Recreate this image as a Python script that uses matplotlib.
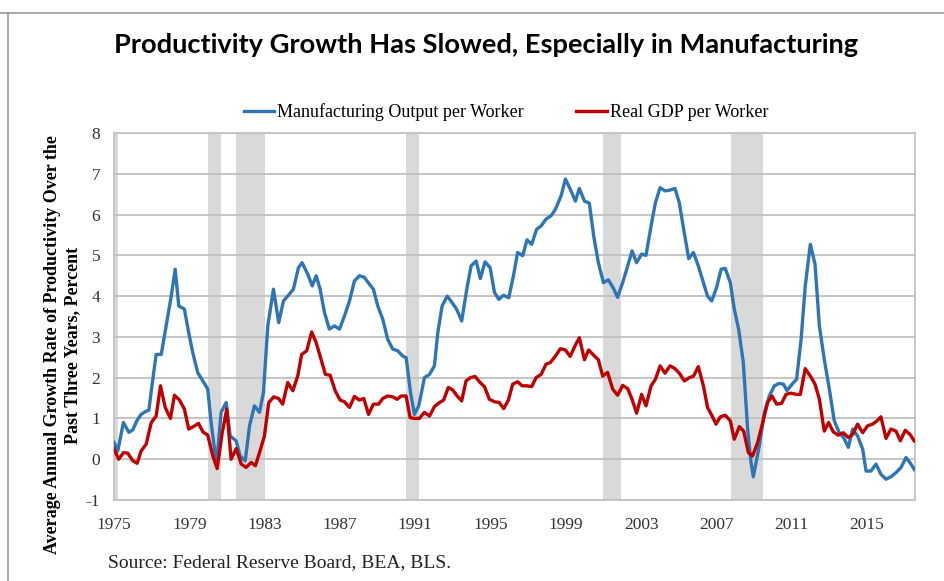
import matplotlib
matplotlib.use("Agg")
import matplotlib.pyplot as plt
from matplotlib.lines import Line2D

plt.rcParams["axes.unicode_minus"] = False

# Manufacturing output per worker, 3-yr avg growth (%)
mfg_year = [1975.00, 1975.20, 1975.50, 1975.79, 1976.00, 1976.21, 1976.44, 1976.71, 1976.85, 1977.06,
            1977.24, 1977.51, 1977.77, 1978.04, 1978.25, 1978.44, 1978.74, 1978.97, 1979.18, 1979.45,
            1979.72, 1979.98, 1980.16, 1980.34, 1980.46, 1980.69, 1980.96, 1981.17, 1981.49, 1981.70,
            1981.97, 1982.20, 1982.46, 1982.73, 1982.94, 1983.17, 1983.47, 1983.75, 1984.00, 1984.32,
            1984.53, 1984.80, 1984.99, 1985.29, 1985.53, 1985.74, 1985.95, 1986.18, 1986.44, 1986.71,
            1986.98, 1987.24, 1987.51, 1987.77, 1988.04, 1988.30, 1988.57, 1988.78, 1989.01, 1989.28,
            1989.54, 1989.81, 1990.07, 1990.34, 1990.52, 1990.75, 1990.96, 1991.19, 1991.49, 1991.76,
            1992.02, 1992.20, 1992.43, 1992.70, 1992.96, 1993.20, 1993.47, 1993.74, 1993.97, 1994.24,
            1994.46, 1994.71, 1994.98, 1995.21, 1995.44, 1995.69, 1995.97, 1996.22, 1996.44, 1996.71,
            1996.94, 1997.19, 1997.45, 1997.69, 1997.95, 1998.22, 1998.45, 1998.75, 1998.98, 1999.24,
            1999.51, 1999.72, 1999.99, 2000.25, 2000.48, 2000.73, 2001.00, 2001.26, 2001.53, 2001.75,
            2002.02, 2002.29, 2002.52, 2002.76, 2003.03, 2003.26, 2003.53, 2003.76, 2004.01, 2004.27,
            2004.54, 2004.80, 2005.03, 2005.26, 2005.53, 2005.78, 2006.04, 2006.31, 2006.53, 2006.75,
            2007.01, 2007.25, 2007.47, 2007.74, 2007.95, 2008.18, 2008.43, 2008.66, 2008.84, 2008.96,
            2009.28, 2009.55, 2009.81, 2010.08, 2010.34, 2010.56, 2010.75, 2011.02, 2011.26, 2011.50,
            2011.72, 2011.99, 2012.24, 2012.47, 2012.73, 2013.00, 2013.26, 2013.53, 2013.76, 2014.01,
            2014.24, 2014.50, 2014.77, 2014.95, 2015.21, 2015.48, 2015.74, 2016.01, 2016.27, 2016.54,
            2016.81, 2017.07, 2017.28, 2017.51]
mfg_val = [0.41, 0.20, 0.90, 0.66, 0.72, 0.94, 1.10, 1.18, 1.20, 1.96,
           2.57, 2.57, 3.27, 4.00, 4.66, 3.76, 3.68, 3.10, 2.62, 2.12,
           1.92, 1.72, 0.90, 0.25, -0.05, 1.15, 1.39, 0.57, 0.45, 0.08,
           -0.04, 0.82, 1.31, 1.15, 1.64, 3.27, 4.17, 3.35, 3.88, 4.05,
           4.17, 4.70, 4.82, 4.54, 4.25, 4.50, 4.17, 3.60, 3.19, 3.27,
           3.19, 3.51, 3.88, 4.37, 4.50, 4.46, 4.29, 4.17, 3.76, 3.43,
           2.94, 2.70, 2.66, 2.53, 2.49, 1.64, 1.10, 1.31, 2.00, 2.08,
           2.29, 3.10, 3.76, 4.00, 3.84, 3.68, 3.39, 4.17, 4.74, 4.86,
           4.43, 4.84, 4.70, 4.09, 3.92, 4.02, 3.96, 4.50, 5.07, 4.99,
           5.38, 5.27, 5.64, 5.72, 5.89, 5.97, 6.13, 6.46, 6.87, 6.62,
           6.33, 6.64, 6.33, 6.28, 5.48, 4.82, 4.33, 4.40, 4.19, 3.97,
           4.33, 4.74, 5.11, 4.82, 5.03, 5.00, 5.72, 6.29, 6.66, 6.58,
           6.60, 6.64, 6.29, 5.64, 4.92, 5.07, 4.74, 4.33, 4.00, 3.88,
           4.21, 4.66, 4.68, 4.33, 3.68, 3.19, 2.37, 0.74, -0.08, -0.43,
           0.33, 1.15, 1.55, 1.80, 1.86, 1.84, 1.68, 1.84, 1.96, 2.94,
           4.25, 5.27, 4.78, 3.27, 2.45, 1.72, 0.94, 0.65, 0.53, 0.29,
           0.74, 0.57, 0.25, -0.29, -0.29, -0.12, -0.37, -0.49, -0.43, -0.33,
           -0.20, 0.04, -0.08, -0.25]

# Real GDP per worker
gdp_year = [1975.00, 1975.25, 1975.50, 1975.73, 1976.00, 1976.23, 1976.44, 1976.71, 1976.98, 1977.24,
            1977.47, 1977.72, 1978.00, 1978.21, 1978.48, 1978.74, 1978.97, 1979.22, 1979.49, 1979.72,
            1979.98, 1980.25, 1980.48, 1980.75, 1980.99, 1981.22, 1981.49, 1981.76, 1982.02, 1982.29,
            1982.51, 1982.73, 1982.99, 1983.22, 1983.49, 1983.74, 1983.96, 1984.23, 1984.50, 1984.76,
            1984.97, 1985.24, 1985.50, 1985.74, 1986.00, 1986.23, 1986.48, 1986.75, 1987.01, 1987.24,
            1987.51, 1987.77, 1988.04, 1988.27, 1988.52, 1988.78, 1989.05, 1989.28, 1989.54, 1989.81,
            1990.04, 1990.25, 1990.52, 1990.73, 1990.96, 1991.22, 1991.49, 1991.76, 1992.02, 1992.29,
            1992.51, 1992.76, 1992.99, 1993.23, 1993.47, 1993.70, 1993.93, 1994.18, 1994.45, 1994.68,
            1994.94, 1995.21, 1995.47, 1995.70, 1995.95, 1996.18, 1996.44, 1996.68, 1996.94, 1997.19,
            1997.42, 1997.69, 1997.95, 1998.18, 1998.45, 1998.71, 1998.98, 1999.23, 1999.49, 1999.72,
            1999.99, 2000.21, 2000.48, 2000.73, 2000.96, 2001.22, 2001.49, 2001.75, 2002.02, 2002.29,
            2002.52, 2002.76, 2003.03, 2003.26, 2003.53, 2003.76, 2004.01, 2004.27, 2004.54, 2004.80,
            2005.03, 2005.30, 2005.56, 2005.79, 2006.04, 2006.31, 2006.53, 2006.75, 2006.98, 2007.21,
            2007.47, 2007.74, 2007.95, 2008.22, 2008.45, 2008.70, 2008.92, 2009.19, 2009.46, 2009.72,
            2009.95, 2010.20, 2010.46, 2010.70, 2010.96, 2011.23, 2011.46, 2011.72, 2011.99, 2012.24,
            2012.47, 2012.73, 2012.96, 2013.21, 2013.48, 2013.74, 2014.01, 2014.24, 2014.50, 2014.77,
            2015.03, 2015.30, 2015.53, 2015.74, 2016.01, 2016.27, 2016.54, 2016.77, 2017.03, 2017.28,
            2017.51]
gdp_val = [0.25, 0.00, 0.16, 0.15, -0.04, -0.10, 0.20, 0.37, 0.90, 1.06,
           1.80, 1.27, 1.00, 1.57, 1.45, 1.23, 0.74, 0.80, 0.88, 0.67,
           0.59, 0.08, -0.23, 0.65, 1.23, 0.00, 0.26, -0.12, -0.20, -0.08,
           -0.16, 0.16, 0.57, 1.39, 1.53, 1.49, 1.35, 1.88, 1.68, 2.04,
           2.57, 2.66, 3.12, 2.86, 2.45, 2.08, 2.06, 1.68, 1.45, 1.41,
           1.27, 1.54, 1.45, 1.49, 1.10, 1.35, 1.35, 1.49, 1.55, 1.53,
           1.47, 1.55, 1.55, 1.02, 1.00, 1.00, 1.15, 1.06, 1.29, 1.39,
           1.45, 1.76, 1.70, 1.55, 1.43, 1.92, 2.00, 2.03, 1.88, 1.78,
           1.47, 1.41, 1.39, 1.24, 1.45, 1.84, 1.90, 1.80, 1.80, 1.78,
           2.00, 2.08, 2.33, 2.37, 2.53, 2.71, 2.68, 2.52, 2.78, 2.98,
           2.44, 2.68, 2.55, 2.44, 2.04, 2.13, 1.72, 1.57, 1.81, 1.73,
           1.47, 1.13, 1.59, 1.31, 1.80, 1.96, 2.29, 2.11, 2.29, 2.22,
           2.11, 1.92, 2.00, 2.04, 2.27, 1.80, 1.27, 1.08, 0.86, 1.04,
           1.08, 0.94, 0.49, 0.80, 0.69, 0.16, 0.08, 0.41, 0.90, 1.39,
           1.55, 1.35, 1.37, 1.59, 1.62, 1.59, 1.59, 2.22, 2.04, 1.84,
           1.47, 0.69, 0.90, 0.67, 0.59, 0.65, 0.53, 0.61, 0.86, 0.65,
           0.82, 0.86, 0.94, 1.04, 0.51, 0.74, 0.69, 0.45, 0.71, 0.61,
           0.45]

# recession periods (start, end)
recessions = [(1975.0, 1975.2), (1980.0, 1980.7), (1981.5, 1983.0),
              (1990.5, 1991.2), (2001.0, 2001.95), (2007.75, 2009.5)]

year_ticks = list(range(1975, 2016, 4))

fig = plt.figure(figsize=(9.44, 5.81), dpi=100)
ax = fig.add_axes([114 / 944, 81 / 581, 801 / 944, 367 / 581])

for start, end in recessions:
    ax.axvspan(start, end, color="#d9d9d9", lw=0, zorder=0.2)

ax.plot(mfg_year, mfg_val, color="#2e75b6", lw=2.4, zorder=3,
        label="Manufacturing Output per Worker")
ax.plot(gdp_year, gdp_val, color="#c00000", lw=2.4, zorder=4,
        label="Real GDP per Worker")

ax.set_xlim(1975.0, 2017.55)
ax.set_ylim(-1, 8)
ax.set_xticks(year_ticks)
ax.set_yticks(range(-1, 9))
ax.set_axisbelow(True)
ax.yaxis.grid(True, color="#c0c0c0", lw=1.3)
ax.tick_params(length=0, labelsize=12.5)
ax.tick_params(axis="x", pad=12)
ax.tick_params(axis="y", pad=10)
for lab in ax.get_xticklabels() + ax.get_yticklabels():
    lab.set_family("Liberation Serif")
    lab.set_color("#333333")
for sp in ax.spines.values():
    sp.set_color("#bfbfbf")
    sp.set_linewidth(1.2)

fig.text(63 / 944, 1 - 345 / 581,
         "Average Annual Growth Rate of Productivity Over the\nPast Three Years, Percent",
         rotation=90, ha="center", va="center", multialignment="center",
         family="Liberation Serif", fontweight="bold", fontsize=13, linespacing=1.25)

fig.text(0.515, 0.922, "Productivity Growth Has Slowed, Especially in Manufacturing",
         ha="center", va="center", family="Lato", fontweight="bold", fontsize=19.6)

fig.legend(loc="center", bbox_to_anchor=(0.536, 0.807), ncol=2, frameon=False,
           prop={"family": "Liberation Serif", "size": 13},
           handlelength=1.7, handletextpad=0.15, columnspacing=2.9)

fig.text(108 / 944, 1 - 563 / 581, "Source: Federal Reserve Board, BEA, BLS.",
         ha="left", va="center", family="Liberation Serif", fontsize=14, color="#222222")

# slide border lines
fig.add_artist(Line2D([0, 1], [1 - 13 / 581, 1 - 13 / 581], color="#999999", lw=1.2))
fig.add_artist(Line2D([8 / 944, 8 / 944], [0, 1 - 13 / 581], color="#999999", lw=1.2))

fig.savefig("out.png", dpi=100)
